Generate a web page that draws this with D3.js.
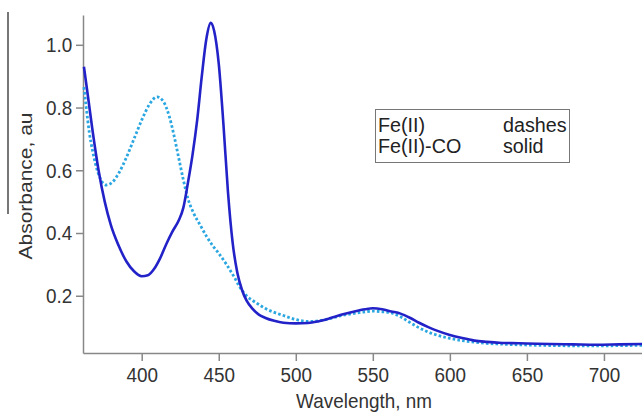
<!DOCTYPE html>
<html>
<head>
<meta charset="utf-8">
<script src="https://cdn.jsdelivr.net/npm/d3@7"></script>
<style>
  body { margin: 0; background: #fff; }
  svg { display: block; font-family: Arial, "Liberation Sans", sans-serif; }
</style>
</head>
<body>
<div id="vis"></div>
<script>
// spectra (wavelength nm, absorbance au)
var coWavelength = [362.5, 365, 368, 372, 376, 380, 385, 390, 395, 400, 404, 408, 412, 416, 420, 424, 427, 430, 433, 436, 439, 442, 444.8, 447, 450, 453, 456, 459, 462, 465, 468, 472, 476, 480, 486, 492, 500, 508, 515, 522, 530, 538, 545, 550, 556, 562, 568, 574, 580, 586, 592, 600, 608, 616, 624, 632, 640, 650, 665, 680, 695, 710, 724.7];
var coAbsorbance = [0.93, 0.84, 0.73, 0.6, 0.5, 0.425, 0.36, 0.31, 0.278, 0.262, 0.265, 0.285, 0.32, 0.365, 0.405, 0.44, 0.48, 0.56, 0.65, 0.76, 0.9, 1.02, 1.07, 1.045, 0.94, 0.75, 0.53, 0.37, 0.275, 0.22, 0.185, 0.158, 0.14, 0.13, 0.12, 0.114, 0.112, 0.113, 0.119, 0.128, 0.14, 0.15, 0.157, 0.16, 0.157, 0.15, 0.143, 0.13, 0.114, 0.1, 0.088, 0.075, 0.065, 0.057, 0.053, 0.05, 0.049, 0.048, 0.046, 0.045, 0.044, 0.045, 0.046];

var feWavelength = [362.5, 364, 366, 368, 370, 373, 377, 381, 385, 390, 395, 400, 405, 410, 414, 418, 421, 424, 427, 430, 434, 438, 442, 446, 450, 455, 460, 464, 468, 472, 476, 480, 486, 492, 500, 508, 515, 522, 530, 538, 545, 550, 556, 562, 568, 574, 580, 586, 592, 600, 608, 616, 624, 632, 650, 670, 690, 710, 724.7];
var feAbsorbance = [0.865, 0.8, 0.72, 0.665, 0.62, 0.575, 0.553, 0.562, 0.59, 0.64, 0.7, 0.76, 0.81, 0.834, 0.82, 0.77, 0.71, 0.64, 0.57, 0.51, 0.46, 0.425, 0.39, 0.36, 0.335, 0.3, 0.26, 0.225, 0.2, 0.185, 0.172, 0.16, 0.147, 0.137, 0.124, 0.118, 0.12, 0.127, 0.137, 0.144, 0.149, 0.151, 0.149, 0.145, 0.133, 0.115, 0.098, 0.084, 0.074, 0.064, 0.057, 0.052, 0.048, 0.046, 0.043, 0.041, 0.04, 0.041, 0.042];

var xTicks = [400, 450, 500, 550, 600, 650, 700];
var yTicks = [0.2, 0.4, 0.6, 0.8, 1.0];
var legendNames = ["Fe(II)", "Fe(II)-CO"];
var legendStyles = ["dashes", "solid"];

var width = 642, height = 413;
var margin = {top: 15, right: 0, bottom: 60, left: 83};
var squash = 0.9; // the picture is a little narrow horizontally

var svg = d3.select("#vis").append("svg")
    .attr("width", width)
    .attr("height", height);

var x = d3.scaleLinear().domain([361.9, 724.7]).range([margin.left, width - margin.right]);
var y = d3.scaleLinear().domain([0.0175, 1.095]).range([height - margin.bottom, margin.top]);

// stray frame line at far left
svg.append("line")
    .attr("x1", 8).attr("x2", 8)
    .attr("y1", 12).attr("y2", 214)
    .attr("stroke", "#777").attr("stroke-width", 2);

// axes
var xAxis = svg.append("g")
    .attr("transform", "translate(0," + (height - margin.bottom) + ")")
    .call(d3.axisBottom(x).tickValues(xTicks).tickSize(8).tickSizeOuter(0).tickPadding(6));

var yAxis = svg.append("g")
    .attr("transform", "translate(" + margin.left + ",0)")
    .call(d3.axisLeft(y).tickValues(yTicks).tickFormat(d3.format(".1f")).tickSize(7).tickSizeOuter(0).tickPadding(5));

[xAxis, yAxis].forEach(function(ax) {
  ax.select(".domain").attr("stroke", "#888").attr("stroke-width", 1.5);
  ax.selectAll(".tick line").attr("stroke", "#888").attr("stroke-width", 1.5);
  ax.selectAll(".tick text")
    .attr("fill", "#333")
    .style("font-size", "21px")
    .style("font-family", "Arial, 'Liberation Sans', sans-serif");
});
xAxis.selectAll(".tick text").attr("transform", "scale(" + squash + ",1)");
yAxis.selectAll(".tick text").attr("transform", "scale(" + squash + ",1)");

// axis titles
svg.append("text")
    .attr("transform", "translate(364,408) scale(" + squash + ",1)")
    .attr("text-anchor", "middle")
    .attr("fill", "#333")
    .style("font-size", "21px")
    .text("Wavelength, nm");

svg.append("text")
    .attr("transform", "translate(32,186) scale(" + squash + ",1) rotate(-90)")
    .attr("text-anchor", "middle")
    .attr("fill", "#333")
    .style("font-size", "21px")
    .text("Absorbance, au");

// spectra
var line = d3.line()
    .x(function(d) { return x(d[0]); })
    .y(function(d) { return y(d[1]); })
    .curve(d3.curveMonotoneX);

var feData = d3.zip(feWavelength, feAbsorbance);
var coData = d3.zip(coWavelength, coAbsorbance);

svg.append("path")
    .datum(feData)
    .attr("d", line)
    .attr("fill", "none")
    .attr("stroke", "#2aa6e0")
    .attr("stroke-width", 2.8)
    .attr("stroke-dasharray", "2.6,2.2");

svg.append("path")
    .datum(coData)
    .attr("d", line)
    .attr("fill", "none")
    .attr("stroke", "#2222c8")
    .attr("stroke-width", 2.6);

// legend box
var legend = svg.append("g");
legend.append("rect")
    .attr("x", 375.5).attr("y", 109.5)
    .attr("width", 194).attr("height", 53)
    .attr("fill", "#fff")
    .attr("stroke", "#777").attr("stroke-width", 1);

legendNames.forEach(function(name, i) {
  var by = 131.5 + i * 21.5;
  legend.append("text")
      .attr("transform", "translate(378," + by + ") scale(0.94,1)")
      .attr("fill", "#222")
      .style("font-size", "21px")
      .text(name);
  legend.append("text")
      .attr("transform", "translate(503," + by + ") scale(0.94,1)")
      .attr("fill", "#222")
      .style("font-size", "21px")
      .text(legendStyles[i]);
});
</script>
</body>
</html>
